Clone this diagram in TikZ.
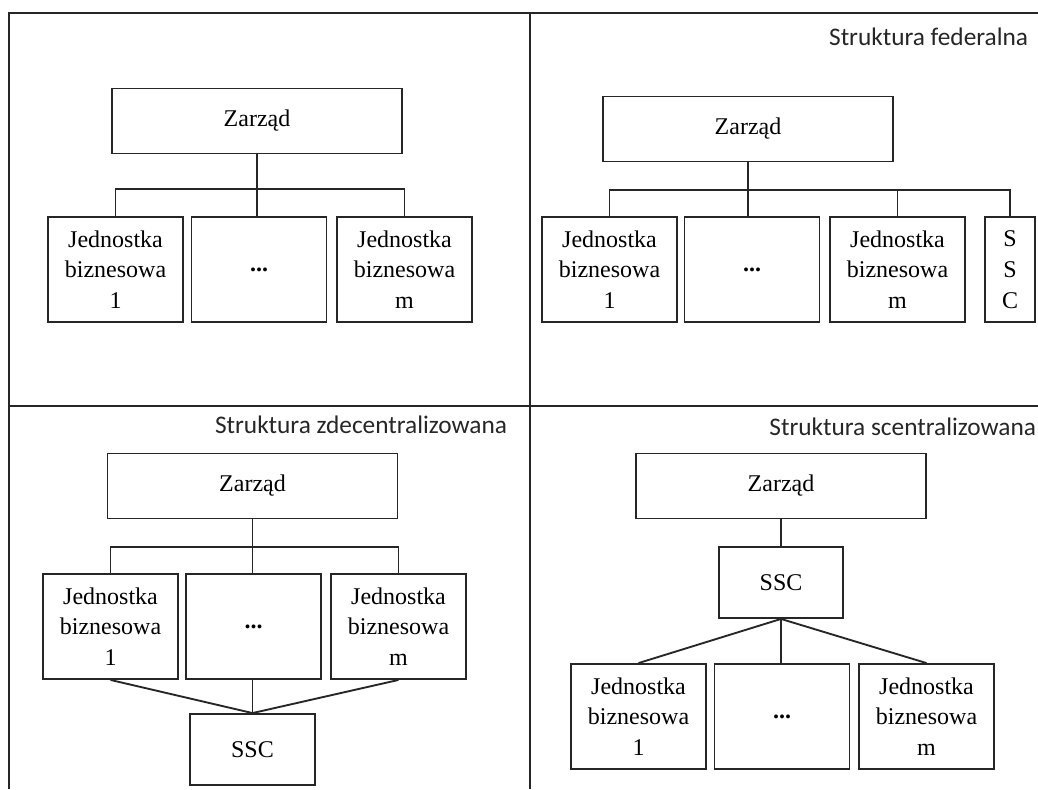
\documentclass[tikz,border=0pt]{standalone}
\usepackage{fontspec}
\setmainfont{Liberation Serif}
\newfontfamily\hdrfont{Carlito}
\definecolor{lineclr}{HTML}{262626}
\begin{document}
\begin{tikzpicture}[x=0.75pt,y=-0.75pt,
  line width=1.4pt, draw=lineclr,
  unitbox/.style={draw=lineclr, line width=1.4pt, inner sep=0pt, align=center,
    font=\fontsize{18}{23}\selectfont},
  zbox/.style={unitbox, minimum width=290*0.75pt, minimum height=65*0.75pt},
  jbox/.style={unitbox, minimum width=135*0.75pt, minimum height=105*0.75pt},
  hdr/.style={font=\hdrfont\fontsize{19}{23}\selectfont, inner sep=0pt, text=black!85}
]
\useasboundingbox (0,0) rectangle (1038,789);
% frame
\draw[lineclr] (9,789) -- (9,13) -- (1038,13);
\draw[lineclr] (530,13) -- (530,789);
\draw[lineclr] (9,406) -- (1038,406);

% ---------- top-left ----------
\node[zbox] (z1) at (257,121) {Zarząd};
\node[jbox] (b11) at (115.5,269.5) {Jednostka\\biznesowa\\1};
\node[jbox] (b12) at (259,269.5) {\textbf{...}};
\node[jbox] (b13) at (404.5,269.5) {Jednostka\\biznesowa\\m};
\coordinate (bus1) at (257,189);
\draw (z1.south) -- (z1.south |- b12.north);
\draw (b11.north) |- (bus1) -| (b13.north);

% ---------- top-right ----------
\node[hdr, anchor=base east] (h2) at (1029,45) {Struktura federalna};
\node[zbox] (z2) at (748,129) {Zarząd};
\node[jbox] (b21) at (609.5,269.5) {Jednostka\\biznesowa\\1};
\node[jbox] (b22) at (752,269.5) {\textbf{...}};
\node[jbox] (b23) at (897.5,269.5) {Jednostka\\biznesowa\\m};
\node[unitbox, minimum width=50*0.75pt, minimum height=105*0.75pt] (s2) at (1010,269.5) {S\\S\\C};
\coordinate (bus2) at (748,190);
\draw (z2.south) -- (z2.south |- b22.north);
\draw (b21.north) |- (bus2) -| (s2.north);
\draw (b23.north) -- (b23.north |- bus2);

% ---------- bottom-left ----------
\node[hdr, anchor=base east] (h3) at (508,433) {Struktura zdecentralizowana};
\node[zbox] (z3) at (252.5,486) {Zarząd};
\node[jbox] (b31) at (110.5,626.5) {Jednostka\\biznesowa\\1};
\node[jbox] (b32) at (253.5,626.5) {\textbf{...}};
\node[jbox] (b33) at (398.5,626.5) {Jednostka\\biznesowa\\m};
\node[unitbox, minimum width=125*0.75pt, minimum height=71*0.75pt] (s3) at (252.5,749.5) {SSC};
\coordinate (bus3) at (252.5,547);
\draw (z3.south) -- (z3.south |- b32.north);
\draw (b31.north) |- (bus3) -| (b33.north);
\draw (b31.south) -- (s3.north);
\draw (s3.north) -- (s3.north |- b32.south);
\draw (b33.south) -- (s3.north);

% ---------- bottom-right ----------
\node[hdr, anchor=base east] (h4) at (1037,435) {Struktura scentralizowana};
\node[zbox] (z4) at (781,486) {Zarząd};
\node[unitbox, minimum width=124*0.75pt, minimum height=71*0.75pt] (s4) at (781,582.5) {SSC};
\node[jbox] (b41) at (638.5,716.5) {Jednostka\\biznesowa\\1};
\node[jbox] (b42) at (782,716.5) {\textbf{...}};
\node[jbox] (b43) at (926.5,716.5) {Jednostka\\biznesowa\\m};
\draw (z4.south) -- (s4.north);
\draw (s4.south) -- (b41.north);
\draw (s4.south) -- (s4.south |- b42.north);
\draw (s4.south) -- (b43.north);
\end{tikzpicture}
\end{document}
